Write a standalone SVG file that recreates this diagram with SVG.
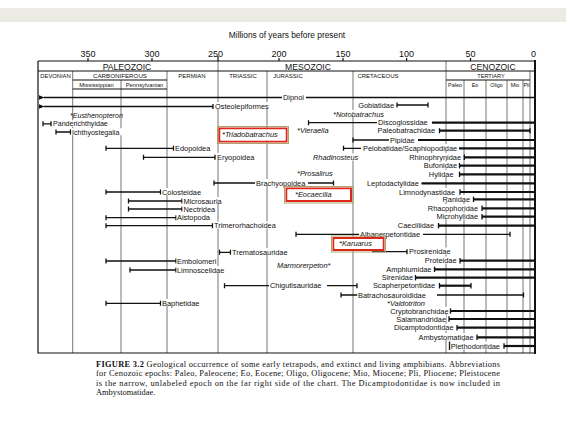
<svg xmlns="http://www.w3.org/2000/svg" width="566" height="425" viewBox="0 0 566 425">
<style>
  .lbl{font-family:"Liberation Sans",Arial,sans-serif;font-size:7.4px;fill:#111}
  .it{font-family:"Liberation Sans",Arial,sans-serif;font-size:7.4px;font-style:italic;fill:#111}
  .hdr{font-family:"Liberation Sans",Arial,sans-serif;fill:#111;text-anchor:middle}
  .ax{font-family:"Liberation Sans",Arial,sans-serif;font-size:9px;fill:#111;text-anchor:middle}
  .cap{font-family:"Liberation Serif","Times New Roman",serif;font-size:8.4px;fill:#111}
  .bar{stroke:#111;stroke-width:1.3;fill:none}
  .thick{stroke:#111;stroke-width:2.2;fill:none}
  .grid{stroke:#777;stroke-width:1;fill:none}
  .frame{stroke:#111;stroke-width:1.2;fill:none}
  .bg{fill:#fff}
  .hl-out{fill:none;stroke:#a9a66a;stroke-width:1}
  .hl-in{fill:none;stroke:#e0261c;stroke-width:2}
</style>
<defs>
  <marker id="arrowL" viewBox="0 0 10 10" refX="1" refY="5" markerWidth="6" markerHeight="6" orient="auto-start-reverse" markerUnits="userSpaceOnUse">
    <path d="M10 1 L0 5 L10 9 Z" fill="#111"/>
  </marker>
</defs>
<rect x="0" y="0" width="566" height="425" fill="#fff"/>
<rect x="0" y="8" width="566" height="14" fill="#ebebe4"/>

<!-- time axis and period table -->
<g id="axis">
  <text class="lbl" x="287" y="38" style="font-size:8.4px;text-anchor:middle">Millions of years before present</text>
  <text class="ax" x="88" y="57">350</text>
  <text class="ax" x="152" y="57">300</text>
  <text class="ax" x="215.5" y="57">250</text>
  <text class="ax" x="279" y="57">200</text>
  <text class="ax" x="343" y="57">150</text>
  <text class="ax" x="406.6" y="57">100</text>
  <text class="ax" x="470.5" y="57">50</text>
  <text class="ax" x="533.5" y="57">0</text>
  <path class="frame" d="M88 58V61 M152 58V61 M279 58V61 M343 58V61 M406.6 58V61 M470.5 58V61 M218 56V61"/>
</g>

<g id="grid">
  <path class="grid" d="M72.7 71V353 M121 80V353 M167 71V353 M218 61V353 M267 71V353 M353 71V353 M446 61V353 M464 80V353 M486 80V353 M507 80V353 M523 80V353 M530 71V353"/>
  <path class="frame" d="M38 61H535 M38 71H535 M72.7 80H167 M446 80H530 M72.7 89H167 M38 61V353H535"/>
  <path stroke="#111" stroke-width="2" d="M535 60V354"/>
  <text class="hdr" x="127" y="69.5" style="font-size:8.6px">PALEOZOIC</text>
  <text class="hdr" x="308" y="69.5" style="font-size:8.6px">MESOZOIC</text>
  <text class="hdr" x="493" y="69.5" style="font-size:8.6px">CENOZOIC</text>
  <text class="hdr" x="55.5" y="78" style="font-size:5.8px">DEVONIAN</text>
  <text class="hdr" x="120" y="78" style="font-size:6.2px">CARBONIFEROUS</text>
  <text class="hdr" x="192" y="78" style="font-size:6px">PERMIAN</text>
  <text class="hdr" x="243" y="78" style="font-size:6px">TRIASSIC</text>
  <text class="hdr" x="288" y="78" style="font-size:6px">JURASSIC</text>
  <text class="hdr" x="378" y="78" style="font-size:6px">CRETACEOUS</text>
  <text class="hdr" x="491" y="77.5" style="font-size:5.6px">TERTIARY</text>
  <text class="hdr" x="96.5" y="87" style="font-size:5.8px">Mississippian</text>
  <text class="hdr" x="144.5" y="87" style="font-size:5.8px">Pennsylvanian</text>
  <text class="hdr" x="455" y="87" style="font-size:5.4px">Paleo</text>
  <text class="hdr" x="475" y="87" style="font-size:5.4px">Eo</text>
  <text class="hdr" x="496.5" y="87" style="font-size:5.4px">Oligo</text>
  <text class="hdr" x="515" y="87" style="font-size:5.4px">Mio</text>
  <text class="hdr" x="526.5" y="87" style="font-size:5.4px">Pli</text>
</g>

<!-- stratigraphic ranges -->
<g id="ranges">
  <g id="dipnoi">
    <path class="bar" d="M44 97.5H282" marker-start="url(#arrowL)"/>
    <path class="bar" d="M306 97.5H535"/>
    <rect class="bg" x="282.5" y="93" width="22" height="7"/>
    <text class="lbl" x="283" y="100">Dipnoi</text>
  </g>
  <g id="osteolepiformes">
    <path class="bar" d="M44 106.5H213 M213 104V109" marker-start="url(#arrowL)"/>
    <rect class="bg" x="214.5" y="102" width="56" height="7"/>
    <text class="lbl" x="215" y="109">Osteolepiformes</text>
  </g>
  <g id="gobiatidae">
    <rect class="bg" x="356" y="100.5" width="38" height="7"/>
    <text class="lbl" x="394" y="107.5" text-anchor="end">Gobiatidae</text>
    <path class="bar" d="M397 105H428 M397 102.5V107.5 M428 102.5V107.5"/>
  </g>
  <g id="eusthenopteron">
    <text class="it" x="70" y="117.6" style="font-size:7.1px">*Eusthenopteron</text>
  </g>
  <g id="notobatrachus">
    <rect class="bg" x="332" y="110" width="52" height="7"/>
    <text class="it" x="333" y="116.5">*Notobatrachus</text>
  </g>
  <g id="panderichthyidae">
    <path class="bar" d="M43 123.8H51 M43 121.3V126.3 M51 121.3V126.3"/>
    <rect class="bg" x="52.5" y="120.3" width="58" height="6.5"/>
    <text class="lbl" x="53" y="126.2" style="font-size:7.1px">Panderichthyidae</text>
  </g>
  <g id="discoglossidae">
    <path class="bar" d="M308.5 122.7H377 M308.5 120.2V125.2"/>
    <path class="thick" d="M432 122.7H535"/>
    <rect class="bg" x="377.5" y="118.5" width="53" height="7"/>
    <text class="lbl" x="378" y="125.2">Discoglossidae</text>
  </g>
  <g id="ichthyostegalia">
    <path class="bar" d="M56 132H70.5 M56 129.5V134.5 M70.5 129.5V134.5"/>
    <rect class="bg" x="71.5" y="128.2" width="51" height="7"/>
    <text class="lbl" x="72" y="134.6" style="font-size:7.1px">Ichthyostegalia</text>
  </g>
  <g id="vieraella">
    <text class="it" x="297" y="133.2">*Vieraella</text>
  </g>
  <g id="paleobatrachidae">
    <rect class="bg" x="375" y="126.5" width="60" height="7"/>
    <text class="lbl" x="435" y="133.2" text-anchor="end">Paleobatrachidae</text>
    <path class="thick" d="M439.5 130.7H530"/>
    <path class="bar" d="M439.5 128.2V133.2 M530 128.2V133.2"/>
  </g>
  <g id="triadobatrachus">
    <rect class="hl-out" x="217.5" y="126.5" width="71" height="17"/>
    <rect class="hl-in" x="219.5" y="128.5" width="67" height="13"/>
    <rect class="bg" x="220.5" y="129.5" width="65" height="11"/>
    <text class="it" x="222" y="137">*Triadobatrachus</text>
  </g>
  <g id="pipidae">
    <path class="bar" d="M353 140H389 M353 137.5V142.5"/>
    <path class="thick" d="M418 140H535"/>
    <rect class="bg" x="389.5" y="136" width="28" height="7"/>
    <text class="lbl" x="390" y="142.5">Pipidae</text>
  </g>
  <g id="edopoidea">
    <path class="bar" d="M106 148.3H173.5 M106 145.8V150.8 M173.5 145.8V150.8"/>
    <rect class="bg" x="174.5" y="144" width="37" height="7"/>
    <text class="lbl" x="175" y="150.8">Edopoidea</text>
  </g>
  <g id="pelobatidae">
    <path class="bar" d="M343.5 148.3H361 M343.5 145.8V150.8"/>
    <path class="thick" d="M459 148.3H535"/>
    <rect class="bg" x="362" y="144" width="96" height="7"/>
    <text class="lbl" x="363" y="150.8">Pelobatidae/Scaphiopodidae</text>
  </g>
  <g id="eryopoidea">
    <path class="bar" d="M143.5 157.3H215 M143.5 154.8V159.8 M215 154.8V159.8"/>
    <rect class="bg" x="216.5" y="153" width="38" height="7"/>
    <text class="lbl" x="217" y="159.8">Eryopoidea</text>
  </g>
  <g id="rhadinosteus">
    <rect class="bg" x="312" y="153.5" width="47" height="7"/>
    <text class="it" x="313" y="160">Rhadinosteus</text>
  </g>
  <g id="rhinophrynidae">
    <rect class="bg" x="407" y="153" width="54" height="7"/>
    <text class="lbl" x="461" y="159.8" text-anchor="end">Rhinophrynidae</text>
    <path class="thick" d="M464.3 157.3H535"/>
    <path class="bar" d="M464.3 154.6V160"/>
  </g>
  <g id="bufonidae">
    <rect class="bg" x="420" y="161.5" width="37" height="7"/>
    <text class="lbl" x="457" y="168.2" text-anchor="end">Bufonidae</text>
    <path class="thick" d="M459.5 165.7H535"/>
    <path class="bar" d="M459.5 163V168.4"/>
  </g>
  <g id="hylidae">
    <rect class="bg" x="427" y="170" width="27" height="7"/>
    <text class="lbl" x="453.5" y="176.8" text-anchor="end">Hylidae</text>
    <path class="thick" d="M459.5 174.3H535"/>
    <path class="bar" d="M459.5 171.6V177"/>
  </g>
  <g id="prosalirus">
    <text class="it" x="297" y="176.3">*Prosalirus</text>
  </g>
  <g id="brachyopoidea">
    <path class="bar" d="M214 183H255 M214 180.5V185.5 M308 183H333.5 M333.5 180.5V185.5"/>
    <rect class="bg" x="255.5" y="179" width="52" height="7"/>
    <text class="lbl" x="256" y="185.5">Brachyopoidea</text>
  </g>
  <g id="leptodactylidae">
    <rect class="bg" x="366" y="179" width="54" height="7"/>
    <text class="lbl" x="367" y="185.8">Leptodactylidae</text>
    <path class="thick" d="M421.5 183.3H535"/>
  </g>
  <g id="colosteidae">
    <path class="bar" d="M106 192H160.5 M106 189.5V194.5 M160.5 189.5V194.5"/>
    <rect class="bg" x="161.5" y="188" width="40" height="7"/>
    <text class="lbl" x="162" y="194.5">Colosteidae</text>
  </g>
  <g id="limnodynastidae">
    <rect class="bg" x="398" y="188" width="57" height="7"/>
    <text class="lbl" x="455" y="194.5" text-anchor="end">Limnodynastidae</text>
    <path class="thick" d="M460 192H535"/>
    <path class="bar" d="M460 189.3V194.7"/>
  </g>
  <g id="eocaecilia">
    <rect class="hl-out" x="284.5" y="186.5" width="68.5" height="16.5"/>
    <rect class="hl-in" x="286.5" y="188.5" width="64.5" height="12.5"/>
    <rect class="bg" x="287.5" y="189.5" width="62.5" height="10.5"/>
    <text class="it" x="295" y="196.5">*Eocaecilia</text>
  </g>
  <g id="ranidae">
    <rect class="bg" x="440" y="195" width="30" height="7"/>
    <text class="lbl" x="470" y="201.8" text-anchor="end">Ranidae</text>
    <path class="thick" d="M473.5 199.3H535"/>
    <path class="bar" d="M473.5 196.6V202"/>
  </g>
  <g id="microsauria">
    <path class="bar" d="M128.5 201H182 M128.5 198.5V203.5 M182 198.5V203.5"/>
    <rect class="bg" x="182.5" y="197" width="40" height="7"/>
    <text class="lbl" x="183.5" y="203.5">Microsauria</text>
  </g>
  <g id="rhacophoridae">
    <rect class="bg" x="425" y="204" width="53.5" height="7"/>
    <text class="lbl" x="478" y="210.8" text-anchor="end">Rhacophoridae</text>
    <path class="thick" d="M482 208.3H535"/>
    <path class="bar" d="M482 205.6V211"/>
  </g>
  <g id="nectridea">
    <path class="bar" d="M128.5 209H182 M128.5 206.5V211.5 M182 206.5V211.5"/>
    <rect class="bg" x="182.5" y="205" width="34" height="7"/>
    <text class="lbl" x="183.5" y="211.5">Nectridea</text>
  </g>
  <g id="microhylidae">
    <rect class="bg" x="433" y="212.5" width="45.5" height="7"/>
    <text class="lbl" x="478" y="219.2" text-anchor="end">Microhylidae</text>
    <path class="thick" d="M482 216.7H535"/>
    <path class="bar" d="M482 214V219.4"/>
  </g>
  <g id="aistopoda">
    <path class="bar" d="M106 217.7H176 M106 215.2V220.2 M176 215.2V220.2"/>
    <rect class="bg" x="176.5" y="213.5" width="35" height="7"/>
    <text class="lbl" x="177" y="220.2">Aistopoda</text>
  </g>
  <g id="trimerorhachoidea">
    <path class="bar" d="M106 225.7H212.5 M106 223.2V228.2 M212.5 223.2V228.2"/>
    <rect class="bg" x="213.5" y="221.5" width="72" height="7"/>
    <text class="lbl" x="214" y="228.2">Trimerorhachoidea</text>
  </g>
  <g id="caeciliidae">
    <rect class="bg" x="396" y="221.5" width="38" height="7"/>
    <text class="lbl" x="434" y="228.2" text-anchor="end">Caeciliidae</text>
    <path class="thick" d="M438.5 225.7H535"/>
    <path class="bar" d="M438.5 223V228.4"/>
  </g>
  <g id="albanerpetontidae">
    <path class="bar" d="M296 234.3H359 M296 231.8V236.8 M423 234.3H510 M510 231.8V236.8"/>
    <rect class="bg" x="359.5" y="230" width="63" height="7"/>
    <text class="lbl" x="360" y="236.8">Albanerpetontidae</text>
  </g>
  <g id="prosirenidae">
    <path class="bar" d="M372 251.7H407 M407 249.2V254.2"/>
    <rect class="bg" x="408" y="247.5" width="43" height="7"/>
    <text class="lbl" x="409" y="254.2">Prosirenidae</text>
  </g>
  <g id="karuarus">
    <rect class="hl-out" x="331.5" y="236" width="54" height="16"/>
    <rect class="hl-in" x="333.5" y="238" width="50" height="12"/>
    <rect class="bg" x="334.5" y="239" width="48" height="10"/>
    <text class="it" x="339" y="246">*Karuarus</text>
  </g>
  <g id="trematosauridae">
    <path class="bar" d="M219.5 252.3H230.5 M219.5 249.8V254.8 M230.5 249.8V254.8"/>
    <rect class="bg" x="231.5" y="248" width="58" height="7"/>
    <text class="lbl" x="232" y="254.8">Trematosauridae</text>
  </g>
  <g id="proteidae">
    <rect class="bg" x="423" y="256.5" width="34" height="7"/>
    <text class="lbl" x="456.5" y="263.2" text-anchor="end">Proteidae</text>
    <path class="thick" d="M460 260.7H535"/>
    <path class="bar" d="M460 258V263.4"/>
  </g>
  <g id="embolomeri">
    <path class="bar" d="M106 261H176 M106 258.5V263.5 M176 258.5V263.5"/>
    <rect class="bg" x="176.5" y="257" width="40" height="7"/>
    <text class="lbl" x="177" y="263.5">Embolomeri</text>
  </g>
  <g id="marmorerpeton">
    <text class="it" x="277" y="267.5">Marmorerpeton*</text>
  </g>
  <g id="amphiumidae">
    <rect class="bg" x="383" y="265" width="49" height="7"/>
    <text class="lbl" x="431.5" y="271.8" text-anchor="end">Amphiumidae</text>
    <path class="thick" d="M434.5 269.3H535"/>
    <path class="bar" d="M434.5 266.6V272"/>
  </g>
  <g id="limnoscelidae">
    <path class="bar" d="M130 270H176 M130 267.5V272.5 M176 267.5V272.5"/>
    <rect class="bg" x="176.5" y="266" width="48" height="7"/>
    <text class="lbl" x="177" y="272.5">Limnoscelidae</text>
  </g>
  <g id="sirenidae">
    <rect class="bg" x="379" y="273.5" width="34.5" height="7"/>
    <text class="lbl" x="413" y="280.2" text-anchor="end">Sirenidae</text>
    <path class="thick" d="M415.5 277.7H535"/>
    <path class="bar" d="M415.5 275V280.4"/>
  </g>
  <g id="scapherpetontidae">
    <rect class="bg" x="374" y="281.5" width="61" height="7"/>
    <text class="lbl" x="435" y="288.2" text-anchor="end">Scapherpetontidae</text>
    <path class="thick" d="M439.5 285.7H471"/>
    <path class="bar" d="M439.5 283V288.4 M471 283V288.4"/>
  </g>
  <g id="chigutisauridae">
    <path class="bar" d="M224.5 285.7H269 M224.5 283.2V288.2 M327 285.7H357 M357 283.2V288.2"/>
    <rect class="bg" x="269.5" y="281.5" width="57" height="7"/>
    <text class="lbl" x="270" y="288.2">Chigutisauridae</text>
  </g>
  <g id="batrachosauroididae">
    <path class="bar" d="M341 295H357.5 M341 292.5V297.5 M437 295H523.5 M523.5 292.5V297.5"/>
    <rect class="bg" x="357.5" y="291" width="79" height="7"/>
    <text class="lbl" x="358" y="297.5">Batrachosauroididae</text>
  </g>
  <g id="valdotriton">
    <rect class="bg" x="386" y="299.5" width="38" height="7"/>
    <text class="it" x="387" y="305.8">*Valdotriton</text>
  </g>
  <g id="baphetidae">
    <path class="bar" d="M106 303.3H160.5 M106 300.8V305.8 M160.5 300.8V305.8"/>
    <rect class="bg" x="161.5" y="299" width="38" height="7"/>
    <text class="lbl" x="162" y="305.8">Baphetidae</text>
  </g>
  <g id="cryptobranchidae">
    <rect class="bg" x="392" y="307" width="57" height="7"/>
    <text class="lbl" x="448.5" y="313.5" text-anchor="end">Cryptobranchidae</text>
    <path class="thick" d="M450.5 311H535"/>
    <path class="bar" d="M450.5 308.3V313.7"/>
  </g>
  <g id="salamandridae">
    <rect class="bg" x="402" y="315" width="44" height="7"/>
    <text class="lbl" x="446" y="321.5" text-anchor="end">Salamandridae</text>
    <path class="thick" d="M449 319H535"/>
    <path class="bar" d="M449 316.3V321.7"/>
  </g>
  <g id="dicamptodontidae">
    <rect class="bg" x="397" y="323.5" width="57" height="7"/>
    <text class="lbl" x="453.5" y="330.2" text-anchor="end">Dicamptodontidae</text>
    <path class="thick" d="M457 327.7H535"/>
    <path class="bar" d="M457 325V330.4"/>
  </g>
  <g id="ambystomatidae">
    <rect class="bg" x="425.5" y="333" width="48.5" height="7"/>
    <text class="lbl" x="473.5" y="339.8" text-anchor="end">Ambystomatidae</text>
    <path class="thick" d="M477 337.3H535"/>
    <path class="bar" d="M477 334.6V340"/>
  </g>
  <g id="plethodontidae">
    <rect class="bg" x="449.5" y="341.5" width="51" height="8"/>
    <path class="bar" d="M449.5 341.5V350"/>
    <text class="lbl" x="500" y="348.5" text-anchor="end">Plethodontidae</text>
    <path class="thick" d="M504 346H535"/>
    <path class="bar" d="M504 343.3V348.7"/>
  </g>
</g>

<!-- caption -->
<g id="caption">
  <text class="cap" x="96" y="367" textLength="404" lengthAdjust="spacing"><tspan font-weight="bold">FIGURE 3.2</tspan>   Geological occurrence of some early tetrapods, and extinct and living amphibians. Abbreviations</text>
  <text class="cap" x="96" y="376.4" textLength="404" lengthAdjust="spacing">for Cenozoic epochs: Paleo, Paleocene; Eo, Eocene; Oligo, Oligocene; Mio, Miocene; Pli, Pliocene; Pleistocene</text>
  <text class="cap" x="96" y="385.8" textLength="404" lengthAdjust="spacing">is the narrow, unlabeled epoch on the far right side of the chart. The Dicamptodontidae is now included in</text>
  <text class="cap" x="96" y="395.2">Ambystomatidae.</text>
</g>
</svg>
